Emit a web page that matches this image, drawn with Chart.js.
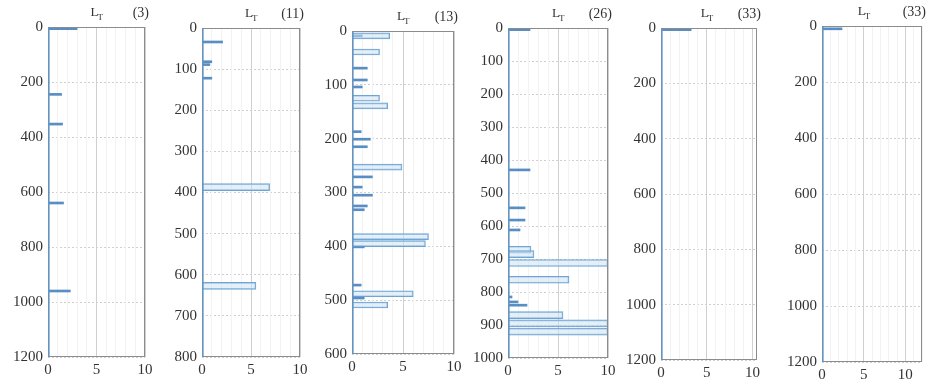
<!DOCTYPE html>
<html>
<head>
<meta charset="utf-8">
<script src="https://cdn.jsdelivr.net/npm/chart.js@4"></script>
<style>
  html, body { margin: 0; padding: 0; background: #fff; overflow: hidden; }
  body { width: 934px; height: 386px; position: relative; }
  canvas { position: absolute; top: 0; }
</style>
</head>
<body>
<canvas id="c1"></canvas>
<canvas id="c2"></canvas>
<canvas id="c3"></canvas>
<canvas id="c4"></canvas>
<canvas id="c5"></canvas>
<canvas id="c6"></canvas>
<script>
// well names shown top right of each panel
const wellLabels = ['(3)', '(11)', '(13)', '(26)', '(33)', '(33)'];
const depthMax = [1200, 800, 600, 1000, 1200, 1200];
const depthStep = [200, 100, 100, 100, 200, 200];
const valueMax = [10, 10, 10, 10, 10.5, 12];

// thin (single line) bars: depth and value
const thinDepth1 = [6, 245, 353, 640, 960];
const thinValue1 = [3.0, 1.4, 1.5, 1.6, 2.3];
const thickDepth1 = [];
const thickValue1 = [];

const thinDepth2 = [34, 82, 89, 122];
const thinValue2 = [2.1, 1.0, 0.8, 1.0];
const thickDepth2 = [387, 627];
const thickValue2 = [6.9, 5.5];

const thinDepth3 = [9, 69, 91, 104, 187, 201, 215, 271, 290, 305, 325, 332, 401, 472, 496];
const thinValue3 = [1.0, 1.5, 1.5, 1.0, 0.9, 1.8, 1.5, 2.0, 1.0, 2.0, 1.5, 1.2, 1.2, 0.9, 1.2];
const thickDepth3 = [9, 39, 125, 139, 253, 382, 395, 488, 509];
const thickValue3 = [3.7, 2.7, 2.7, 3.5, 4.9, 7.5, 7.2, 6.0, 3.5];

const thinDepth4 = [5, 430, 545, 582, 612, 815, 830, 840];
const thinValue4 = [2.2, 2.2, 1.7, 1.7, 1.2, 0.4, 1.0, 1.9];
const thickDepth4 = [672, 685, 712, 763, 870, 895, 920];
const thickValue4 = [2.3, 2.6, 10, 6.1, 5.5, 10, 10];

const thinDepth5 = [6];
const thinValue5 = [3.3];
const thickDepth5 = [];
const thickValue5 = [];

const thinDepth6 = [10];
const thinValue6 = [2.4];
const thickDepth6 = [];
const thickValue6 = [];

const thinDepths = [thinDepth1, thinDepth2, thinDepth3, thinDepth4, thinDepth5, thinDepth6];
const thinValues = [thinValue1, thinValue2, thinValue3, thinValue4, thinValue5, thinValue6];
const thickDepths = [thickDepth1, thickDepth2, thickDepth3, thickDepth4, thickDepth5, thickDepth6];
const thickValues = [thickValue1, thickValue2, thickValue3, thickValue4, thickValue5, thickValue6];

// plot box of each panel in page pixels: left, right, top, bottom
const boxes = [
    [48, 145, 27, 357],
    [202, 300, 28, 357],
    [352, 454, 31, 354],
    [508, 608, 28, 358],
    [661, 757, 28, 360],
    [822, 922, 26, 362]
];
const thickPx = [6, 7, 6, 7, 6, 6];

const AXIS_W = 46;
const AXIS_H = 28;
const PAD_R = 12;

const framePlugin = {
    id: 'frame',
    afterDraw(chart, args, opts) {
        const ctx = chart.ctx;
        const a = chart.chartArea;
        ctx.save();
        ctx.strokeStyle = '#8c8c8c';
        ctx.lineWidth = 1;
        ctx.strokeRect(Math.round(a.left) + 0.5, Math.round(a.top) + 0.5,
                       Math.round(a.right - a.left) - 1, Math.round(a.bottom - a.top) - 1);
        // blue trace along the zero line
        ctx.strokeStyle = 'rgba(90,150,205,0.85)';
        ctx.lineWidth = 1.5;
        ctx.beginPath();
        ctx.moveTo(a.left + 1, a.top);
        ctx.lineTo(a.left + 1, a.bottom);
        ctx.stroke();

        ctx.fillStyle = '#333';
        ctx.textBaseline = 'alphabetic';
        ctx.font = '14px "Liberation Serif"';
        ctx.textAlign = 'right';
        ctx.fillText(opts.label, a.right + 4, a.top - 10);

        const x5 = chart.scales.x.getPixelForValue(5);
        ctx.textAlign = 'left';
        ctx.font = '13px "Liberation Serif"';
        ctx.fillText('L', x5 - 6, a.top - 11);
        ctx.font = '9px "Liberation Serif"';
        ctx.fillText('T', x5 + 1, a.top - 7);
        ctx.restore();
    }
};

function makePanel(i) {
    const box = boxes[i];
    const canvas = document.getElementById('c' + (i + 1));
    const w = (box[1] - box[0]) + AXIS_W + PAD_R;
    const h = box[3] + AXIS_H;
    canvas.width = w;
    canvas.height = h;
    canvas.style.left = (box[0] - AXIS_W) + 'px';

    const thin = thinDepths[i].map((d, k) => ({ x: thinValues[i][k], y: d }));
    const thick = thickDepths[i].map((d, k) => ({ x: thickValues[i][k], y: d }));

    new Chart(canvas.getContext('2d'), {
        type: 'bar',
        data: {
            datasets: [{
                label: 'thick',
                data: thick,
                backgroundColor: 'rgba(205,225,242,0.55)',
                borderColor: 'rgba(95,155,210,0.9)',
                borderWidth: 1,
                borderSkipped: 'start',
                barThickness: thickPx[i],
                grouped: false
            }, {
                label: 'thin',
                data: thin,
                backgroundColor: 'rgba(70,130,190,0.9)',
                borderWidth: 0,
                barThickness: 2,
                grouped: false
            }]
        },
        options: {
            indexAxis: 'y',
            responsive: false,
            animation: false,
            layout: { padding: { top: box[2], right: PAD_R, left: 0, bottom: 0 } },
            plugins: {
                legend: { display: false },
                tooltip: { enabled: false },
                frame: { label: wellLabels[i] }
            },
            scales: {
                y: {
                    type: 'linear',
                    reverse: true,
                    offset: false,
                    min: 0,
                    max: depthMax[i],
                    afterFit: function(scale) { scale.width = AXIS_W; },
                    ticks: {
                        stepSize: depthStep[i],
                        color: '#333',
                        padding: 5,
                        font: { family: 'Liberation Serif', size: 15 },
                        callback: function(value) { return String(value); }
                    },
                    grid: {
                        offset: false,
                        color: '#cfcfcf',
                        drawTicks: false
                    },
                    border: { display: false, dash: [2, 2] }
                },
                x: {
                    type: 'linear',
                    min: 0,
                    max: valueMax[i],
                    afterFit: function(scale) { scale.height = AXIS_H; },
                    ticks: {
                        stepSize: 1,
                        includeBounds: false,
                        autoSkip: false,
                        maxRotation: 0,
                        color: '#333',
                        padding: 4,
                        font: { family: 'Liberation Serif', size: 15 },
                        callback: function(value) {
                            return value % 5 === 0 ? String(value) : '';
                        }
                    },
                    grid: {
                        drawTicks: false,
                        color: function(c) {
                            return c.tick && c.tick.value % 5 === 0 ? '#d0d0d0' : '#f2f2f2';
                        }
                    },
                    border: { display: false }
                }
            }
        },
        plugins: [framePlugin]
    });
}

document.addEventListener("DOMContentLoaded", function() {
    for (let i = 0; i < 6; i++) {
        makePanel(i);
    }
});
</script>
</body>
</html>
